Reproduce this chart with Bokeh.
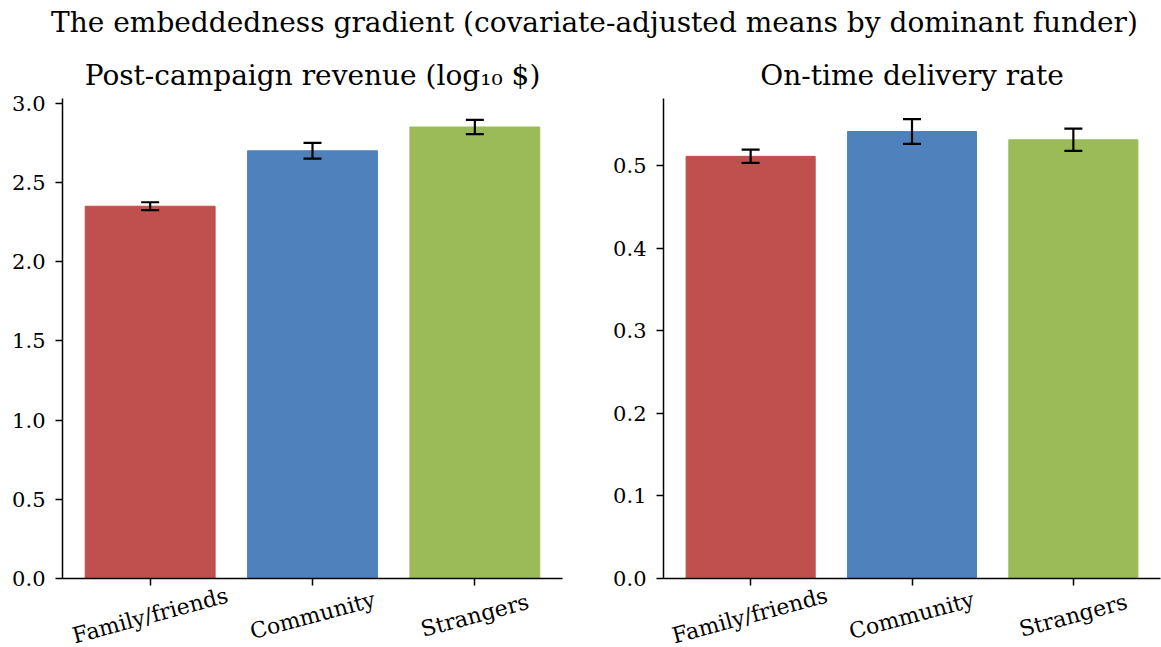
import numpy as np
from bokeh.plotting import figure
from bokeh.layouts import column, row
from bokeh.models import (ColumnDataSource, Whisker, TeeHead, FixedTicker, Label,
                          Range1d, PrintfTickFormatter)
from bokeh.core.properties import value
from bokeh.embed import file_html
from bokeh.resources import INLINE

categories = ["Family/friends", "Community", "Strangers"]
colors = ["#C0504D", "#4F81BD", "#9BBB59"]

revenue_means = [2.35, 2.70, 2.85]
revenue_errs = [0.025, 0.05, 0.045]

ontime_means = [0.511, 0.541, 0.531]
ontime_errs = [0.008, 0.015, 0.0135]

suptitle = "The embeddedness gradient (covariate-adjusted means by dominant funder)"
titles = ["Post-campaign revenue (log\u2081\u2080 $)", "On-time delivery rate"]
yticks_left = [0.0, 0.5, 1.0, 1.5, 2.0, 2.5, 3.0]
yticks_right = [0.0, 0.1, 0.2, 0.3, 0.4, 0.5]

FONT = "DejaVu Serif"
PANEL_H = 548
OVERLAP = 14
LABEL_H = 647 - 46 - PANEL_H + OVERLAP


def make_panel(title, means, errs, yticks, ymax, width, bl, br):
    x = np.arange(len(categories))
    means = np.array(means)
    errs = np.array(errs)
    xr = Range1d(-0.54, 2.54)
    src = ColumnDataSource(dict(x=x, top=means, color=colors,
                                upper=means + errs, lower=means - errs))
    p = figure(width=width, height=PANEL_H, x_range=xr,
               y_range=Range1d(0, ymax), toolbar_location=None,
               output_backend="svg", min_border_left=bl, min_border_right=br,
               min_border_top=52, min_border_bottom=PANEL_H - 52 - 480)
    p.title.text = title
    p.title.align = "center"
    p.title.text_font = FONT
    p.title.text_font_size = "28px"
    p.title.text_font_style = "normal"
    p.title.text_color = "#000000"
    p.title.standoff = 13
    p.vbar(x="x", top="top", width=0.8, bottom=0, source=src,
           fill_color="color", line_color="color")
    w = Whisker(base="x", upper="upper", lower="lower", source=src,
                line_width=2.2, line_color="black", level="overlay",
                upper_head=TeeHead(size=18, line_width=2.2, line_color="black"),
                lower_head=TeeHead(size=18, line_width=2.2, line_color="black"))
    p.add_layout(w)
    p.xgrid.visible = False
    p.ygrid.visible = False
    p.outline_line_color = None
    p.xaxis.ticker = FixedTicker(ticks=list(x))
    p.xaxis.major_label_overrides = {int(i): "" for i in x}
    p.xaxis.major_label_text_font_size = "0px"
    p.xaxis.major_label_standoff = 0
    p.yaxis.ticker = FixedTicker(ticks=yticks)
    p.yaxis.formatter = PrintfTickFormatter(format="%.1f")
    p.yaxis.major_label_text_font = FONT
    p.yaxis.major_label_text_font_size = "21px"
    p.yaxis.major_label_text_color = "#000000"
    p.yaxis.major_label_standoff = 10
    for ax in (p.xaxis, p.yaxis):
        ax.axis_line_width = 1.5
        ax.axis_line_color = "black"
        ax.major_tick_line_width = 1.5
        ax.major_tick_line_color = "black"
        ax.major_tick_out = 7
        ax.major_tick_in = 0
        ax.minor_tick_line_color = None

    # category labels, rotated like the reference, in a transparent strip
    lab = figure(width=width, height=LABEL_H, x_range=xr, y_range=Range1d(0, LABEL_H),
                 toolbar_location=None, output_backend="svg",
                 min_border_left=bl, min_border_right=br, min_border_top=0,
                 min_border_bottom=0, x_axis_location=None, y_axis_location=None,
                 background_fill_color=None, border_fill_color=None)
    lab.xgrid.visible = False
    lab.ygrid.visible = False
    lab.outline_line_color = None
    # label centre sits ~37 px below the axis line (page y ~615)
    centre_from_top = 615 - (46 + PANEL_H - OVERLAP)
    lsrc = ColumnDataSource(dict(x=x, y=np.full(len(x), float(LABEL_H - centre_from_top)),
                                 name=categories))
    lab.text(x="x", y="y", text="name", source=lsrc, angle=np.deg2rad(15),
             text_align="center", text_baseline="middle", text_font=value(FONT),
             text_font_size="22px", text_color="#000000")
    return p, lab


header = figure(width=1161, height=46, x_range=Range1d(0, 1), y_range=Range1d(0, 1),
                toolbar_location=None, output_backend="svg", min_border=0,
                x_axis_location=None, y_axis_location=None)
header.xgrid.visible = False
header.ygrid.visible = False
header.outline_line_color = None
header.add_layout(Label(x=594 / 1161, y=0.52, text=suptitle, text_align="center",
                        text_baseline="middle", text_font=FONT,
                        text_font_size="28px", text_color="#000000"))

p1, l1 = make_panel(titles[0], revenue_means, revenue_errs, yticks_left, 3.03, 610, 62, 48)
p2, l2 = make_panel(titles[1], ontime_means, ontime_errs, yticks_right, 0.581, 551, 52, 1)

strip = row(l1, l2, spacing=0, margin=(-OVERLAP, 0, 0, 0))
layout = column(header, row(p1, p2, spacing=0), strip, spacing=0)
open("out.html", "w").write(file_html(layout, INLINE))
